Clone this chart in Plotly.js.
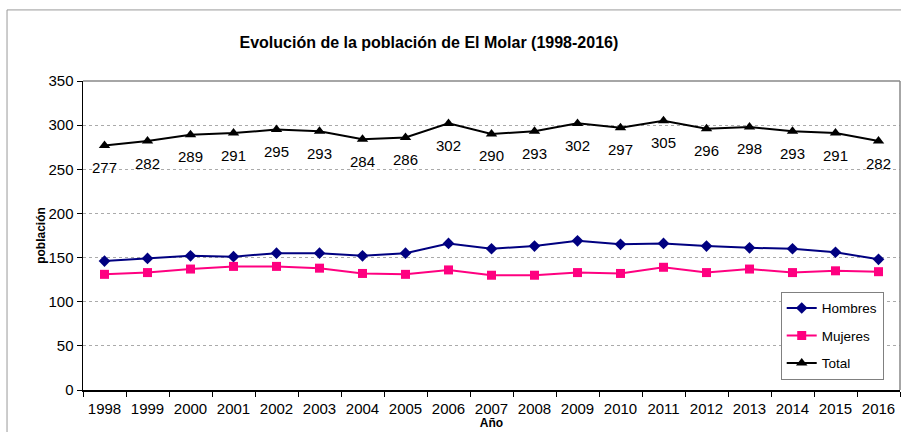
<!DOCTYPE html>
<html>
<head>
<meta charset="utf-8">
<script src="https://cdn.plot.ly/plotly-3.0.1.min.js"></script>
<style>html,body{margin:0;padding:0;background:#fff;}#chart{width:901px;height:432px;}</style>
</head>
<body>
<div id="chart"></div>
<script>
const years = ['1998','1999','2000','2001','2002','2003','2004','2005','2006','2007','2008','2009','2010','2011','2012','2013','2014','2015','2016'];
const hombres = [146,149,152,151,155,155,152,155,166,160,163,169,165,166,163,161,160,156,148];
const mujeres = [131,133,137,140,140,138,132,131,136,130,130,133,132,139,133,137,133,135,134];
const total = [277,282,289,291,295,293,284,286,302,290,293,302,297,305,296,298,293,291,282];
const seriesNames = ['Hombres','Mujeres','Total'];

const traces = [
  {x: years, y: hombres, name: seriesNames[0], legendgroup: 'h', type: 'scatter', mode: 'lines+markers',
   line: {color: '#000080', width: 2}, marker: {symbol: 'diamond', size: 9, color: '#000080'}},
  {x: years, y: mujeres, name: seriesNames[1], legendgroup: 'm', type: 'scatter', mode: 'lines+markers',
   line: {color: '#FF0080', width: 2}, marker: {symbol: 'square', size: 9, color: '#FF0080'}},
  {x: years, y: total, name: seriesNames[2], legendgroup: 't', type: 'scatter', mode: 'lines+markers',
   line: {color: '#000000', width: 2}, marker: {symbol: 'triangle-up', size: 10, color: '#000'}}
];

// data labels for Total, placed below each point (x given as category index)
const labelAnnotations = total.map((v, i) => ({
  x: i, y: v, xref: 'x', yref: 'y', text: String(v),
  showarrow: false, yshift: -22, font: {size: 15, color: '#000'}
}));

const layout = {
  width: 901, height: 432,
  margin: {l: 83, r: 1, t: 81, b: 42},
  paper_bgcolor: '#fff', plot_bgcolor: '#fff',
  font: {family: 'Liberation Sans, Arial, sans-serif', size: 15, color: '#000'},
  title: {text: 'Evolución de la población de El Molar (1998-2016)',
    font: {family: 'Liberation Sans Narrow, Liberation Sans, Arial, sans-serif', size: 16, weight: 'bold', color: '#000'},
    x: 0.476, xanchor: 'center', y: 0.903, yanchor: 'middle'},
  showlegend: true,
  legend: {x: 0.854, y: 0.318, xanchor: 'left', yanchor: 'top',
    bgcolor: '#fff', bordercolor: '#808080', borderwidth: 1,
    font: {size: 13.5}, itemwidth: 30, tracegroupgap: 7},
  xaxis: {type: 'category', range: [-0.5, 18.5], showline: true, linecolor: '#000', linewidth: 1.5,
    ticks: 'outside', ticklen: 5, tickcolor: '#000', tickson: 'boundaries', tickangle: 0,
    ticklabelstandoff: 4,
    showgrid: false, zeroline: false, fixedrange: true,
    title: {text: 'Año', font: {size: 12, weight: 'bold'}, standoff: 0}},
  yaxis: {range: [0, 350], dtick: 50, showline: true, linecolor: '#000', linewidth: 1.5,
    ticks: 'outside', ticklen: 5, tickcolor: '#000',
    showgrid: true, gridcolor: '#aaa', griddash: 'dot', gridwidth: 1, zeroline: false,
    title: {text: 'población', font: {size: 12, weight: 'bold'}, standoff: 0}},
  annotations: labelAnnotations,
  shapes: [
    {type: 'line', xref: 'paper', yref: 'paper', x0: 0, x1: 1, y0: 1, y1: 1, line: {color: '#888', width: 1.5}},
    {type: 'line', xref: 'paper', yref: 'paper', x0: 1, x1: 1, y0: 0, y1: 1, line: {color: '#888', width: 1.5}},
    {type: 'rect', xref: 'paper', yref: 'paper', x0: -0.093, x1: 1.2, y0: -0.3, y1: 1.23, line: {color: '#999', width: 1}, layer: 'below'}
  ]
};

Plotly.newPlot('chart', traces, layout, {displayModeBar: false, staticPlot: true});
</script>
</body>
</html>
